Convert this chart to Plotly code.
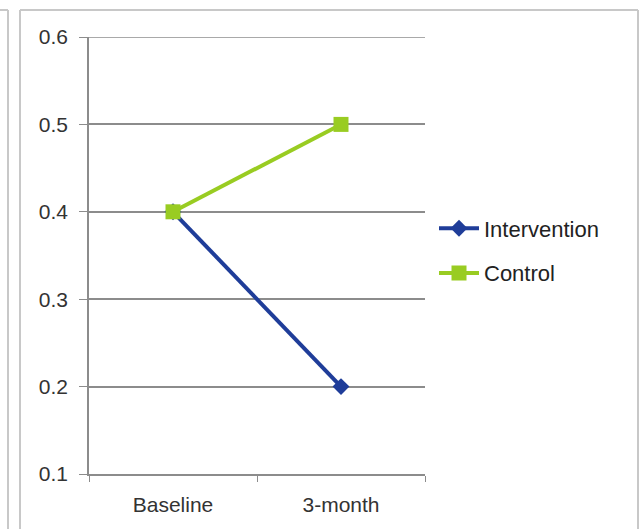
import plotly.graph_objects as go

categories = ["Baseline", "3-month"]
intervention = [0.4, 0.2]
control = [0.4, 0.5]
y_ticks = [0.1, 0.2, 0.3, 0.4, 0.5, 0.6]

W, H = 640, 529
L, R, T, B = 89, 425, 37, 474


def px_x(px):
    return (px - L) / (R - L)


def px_y(py):
    return (B - py) / (B - T)


fig = go.Figure()
fig.add_trace(go.Scatter(
    x=categories, y=intervention, name="Intervention", mode="lines+markers",
    legendgroup="a",
    line=dict(color="#1f3d99", width=4),
    marker=dict(symbol="diamond", size=13, color="#1f3d99"),
))
fig.add_trace(go.Scatter(
    x=categories, y=control, name="Control", mode="lines+markers",
    legendgroup="b",
    line=dict(color="#99cc22", width=4),
    marker=dict(symbol="square", size=15, color="#99cc22"),
))

frame = dict(type="line", xref="paper", yref="paper",
             line=dict(color="#c8c8c8", width=2), layer="below")
shapes = [
    dict(frame, x0=px_x(20), x1=px_x(20), y0=px_y(10), y1=px_y(540)),
    dict(frame, x0=px_x(20), x1=px_x(638), y0=px_y(10), y1=px_y(10)),
    dict(frame, x0=px_x(638), x1=px_x(638), y0=px_y(10), y1=px_y(540)),
    dict(frame, x0=px_x(8), x1=px_x(8), y0=px_y(10), y1=px_y(540)),
    dict(frame, x0=px_x(-5), x1=px_x(8), y0=px_y(10), y1=px_y(10)),
    # top gridline at 0.6
    dict(type="line", xref="paper", yref="y", x0=px_x(80), x1=1, y0=0.6, y1=0.6,
         line=dict(color="#8c8c8c", width=1.5)),
]

fig.update_layout(
    width=W, height=H,
    margin=dict(l=L, r=W - R, t=T, b=H - B),
    paper_bgcolor="white", plot_bgcolor="white",
    font=dict(family="Liberation Sans, Arial, sans-serif", size=21, color="#333333"),
    showlegend=True,
    legend=dict(x=px_x(434), y=px_y(251), xanchor="left", yanchor="middle",
                font=dict(size=22, color="#222222"), itemwidth=40,
                tracegroupgap=13, bgcolor="rgba(0,0,0,0)"),
    shapes=shapes,
)
fig.update_xaxes(
    type="category", showline=True, linecolor="#8c8c8c", linewidth=1.5,
    ticks="outside", tickson="boundaries", ticklen=6, tickcolor="#8c8c8c",
    tickfont=dict(size=21, color="#333333"), ticklabelstandoff=11,
    showgrid=False, range=[-0.5, 1.5],
)
fig.update_yaxes(
    range=[0.1, 0.6], tickvals=y_ticks, ticktext=[f"{v:.1f}" for v in y_ticks],
    showline=True, linecolor="#8c8c8c", linewidth=1.5,
    ticks="outside", ticklen=8, tickcolor="#8c8c8c",
    tickfont=dict(size=21, color="#333333"), ticklabelstandoff=7,
    showgrid=True, gridcolor="#8c8c8c", gridwidth=1.5, zeroline=False,
)

fig.write_html("out.html")
